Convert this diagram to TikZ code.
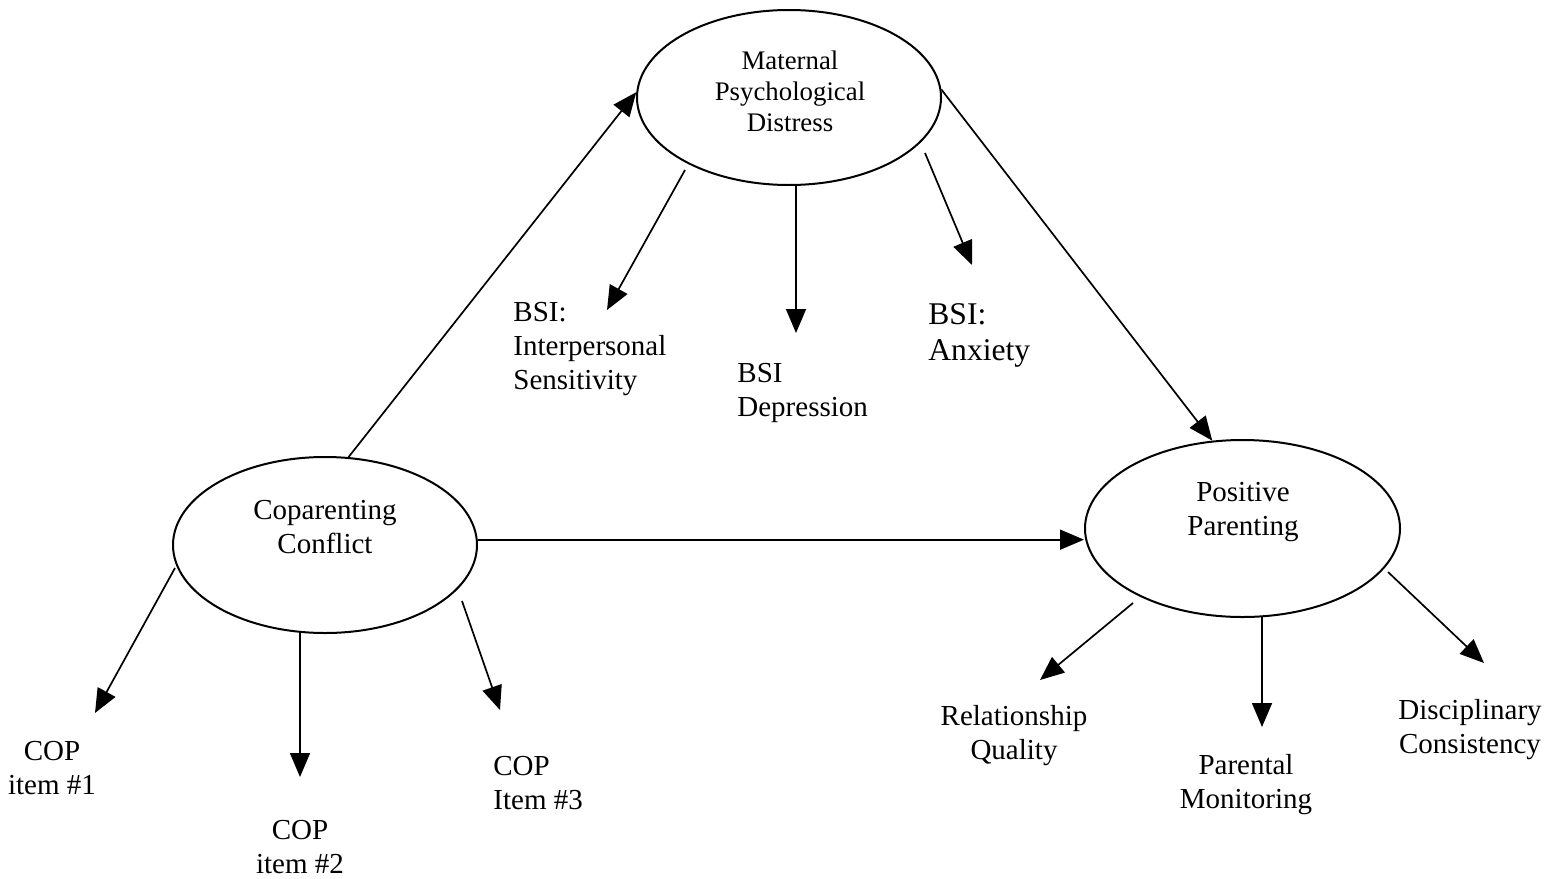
\documentclass[tikz,border=0pt]{standalone}
\usepackage{fontspec}
\setmainfont{Liberation Serif}
\usetikzlibrary{arrows.meta,shapes.geometric}
\begin{document}
\begin{tikzpicture}[x=0.5pt,y=-0.5pt,
  latent/.style={ellipse,draw,line width=1pt,inner sep=0pt},
  lbl/.style={font=\fontsize{14.5}{17}\selectfont,inner sep=0pt},
  arr/.style={line width=0.85pt,-{Triangle[length=12pt,width=10pt]}}]
\useasboundingbox (0,0) rectangle (1557,878);

% latent constructs
\node[latent,minimum width=152pt,minimum height=87.5pt] (mat) at (789,97.5) {};
\node[latent,minimum width=152pt,minimum height=88pt] (cc) at (325,545) {};
\node[latent,minimum width=157.5pt,minimum height=88.5pt] (pp) at (1242.5,528.5) {};

\node[lbl,align=center,font=\fontsize{13.4}{15.5}\selectfont] (mat-t) at (790,91) {Maternal\\Psychological\\Distress};
\node[lbl,align=center] (cc-t) at (325,527) {Coparenting\\Conflict};
\node[lbl,align=center] (pp-t) at (1243,512) {Positive\\Parenting};

% indicators
\node[lbl,align=left,anchor=west] (bsi1) at (513,349) {BSI:\\Interpersonal\\Sensitivity};
\node[lbl,align=left,anchor=west] (bsi2) at (737,393) {BSI\\Depression};
\node[lbl,align=left,anchor=west,font=\fontsize{15.8}{18}\selectfont] (bsi3) at (928,335) {BSI:\\Anxiety};
\node[lbl,align=center] (cop1) at (52,768) {COP\\item \#1};
\node[lbl,align=center] (cop2) at (300,847) {COP\\item \#2};
\node[lbl,align=left,anchor=west] (cop3) at (493,783) {COP\\Item \#3};
\node[lbl,align=center] (rq) at (1014,736) {Relationship\\Quality};
\node[lbl,align=center] (pm) at (1246,785) {Parental\\Monitoring};
\node[lbl,align=center] (dc) at (1470,730) {Disciplinary\\Consistency};

% structural paths
\draw[arr] (cc.75) -- (mat.178);
\draw[arr] (mat.3) -- (pp.109);
\draw[arr] (cc.2) -- (cc.2 -| pp.west);

% measurement arrows (start and end points)
\coordinate (mat-o1) at (685,170);  \coordinate (bsi1-i) at (607,310);
\coordinate (mat-o2) at (796,185);  \coordinate (bsi2-i) at (796,333);
\coordinate (mat-o3) at (925,153);  \coordinate (bsi3-i) at (972,265);
\coordinate (cc-o1) at (175,568);   \coordinate (cop1-i) at (95,713);
\coordinate (cc-o2) at (300,633);   \coordinate (cop2-i) at (300,777);
\coordinate (cc-o3) at (462,601);   \coordinate (cop3-i) at (500,710);
\coordinate (pp-o1) at (1133,603);  \coordinate (rq-i) at (1040,680);
\coordinate (pp-o2) at (1262,617);  \coordinate (pm-i) at (1262,727);
\coordinate (pp-o3) at (1388,572);  \coordinate (dc-i) at (1484,663);

\draw[arr] (mat-o1) -- (bsi1-i);
\draw[arr] (mat-o2) -- (bsi2-i);
\draw[arr] (mat-o3) -- (bsi3-i);
\draw[arr] (cc-o1) -- (cop1-i);
\draw[arr] (cc-o2) -- (cop2-i);
\draw[arr] (cc-o3) -- (cop3-i);
\draw[arr] (pp-o1) -- (rq-i);
\draw[arr] (pp-o2) -- (pm-i);
\draw[arr] (pp-o3) -- (dc-i);
\end{tikzpicture}
\end{document}
